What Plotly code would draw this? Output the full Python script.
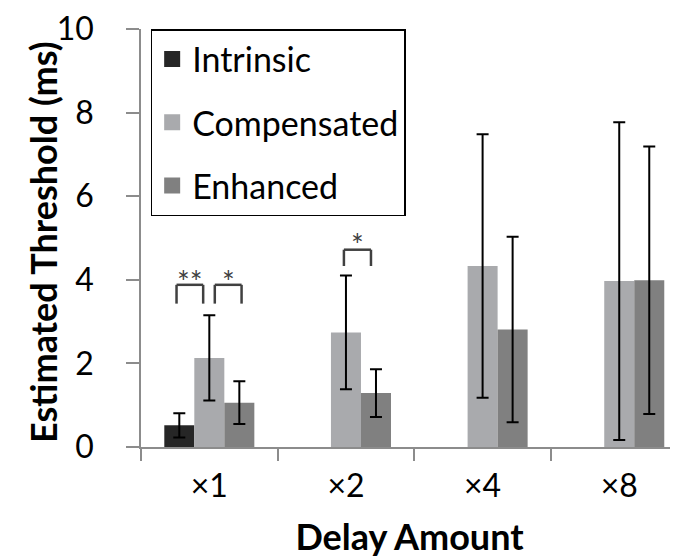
import plotly.graph_objects as go

categories = ["×1", "×2", "×4", "×8"]
intrinsic = [0.52, None, None, None]
intrinsic_err = [0.29, None, None, None]
compensated = [2.13, 2.74, 4.33, 3.97]
compensated_err = [1.02, 1.36, 3.15, 3.80]
enhanced = [1.06, 1.29, 2.81, 3.99]
enhanced_err = [0.51, 0.57, 2.22, 3.20]
y_ticks = [0, 2, 4, 6, 8, 10]

series_names = ["Intrinsic", "Compensated", "Enhanced"]
colors = ["#262626", "#a9aaad", "#808080"]

FONT = "Lato, 'Open Sans', sans-serif"

fig = go.Figure()
for name, vals, errs, col in zip(series_names,
                                  [intrinsic, compensated, enhanced],
                                  [intrinsic_err, compensated_err, enhanced_err],
                                  colors):
    fig.add_trace(go.Bar(
        x=categories, y=vals, name=name, marker_color=col, marker_line_width=0,
        error_y=dict(type="data", array=errs, color="black", thickness=2, width=6),
        showlegend=False,
    ))
# legend entries (square swatches)
for i, (name, col) in enumerate(zip(series_names, colors)):
    fig.add_trace(go.Scatter(
        x=[None], y=[None], mode="markers", name=name, legendgroup=str(i),
        marker=dict(symbol="square", size=16, color=col),
    ))

# significance brackets
brackets = [(-0.24, -0.045, 3.88, 3.43, "**", 3.97),
            (0.04, 0.236, 3.88, 3.43, "*", 3.97),
            (0.985, 1.183, 4.72, 4.33, "*", 4.85)]
for x0, x1, ytop, ybot, label, ylab in brackets:
    for (ax, ay, bx, by) in [(x0, ybot, x0, ytop), (x0, ytop, x1, ytop), (x1, ytop, x1, ybot)]:
        fig.add_shape(type="line", xref="x", yref="y", x0=ax, y0=ay, x1=bx, y1=by,
                      line=dict(color="#404040", width=2.5))
    fig.add_annotation(x=(x0 + x1) / 2, y=ylab, xref="x", yref="y", text=label,
                       showarrow=False, yanchor="middle",
                       font=dict(family=FONT, size=30, color="#404040"))

# y-axis title
fig.add_annotation(x=-0.183, y=0.49, xref="paper", yref="paper",
                   text="<b>Estimated Threshold (ms)</b>", textangle=-90,
                   showarrow=False, xanchor="center", yanchor="middle",
                   font=dict(family=FONT, size=36, color="black"))

fig.update_layout(
    width=670, height=550,
    margin=dict(l=133, r=0, t=16, b=111),
    paper_bgcolor="white", plot_bgcolor="white",
    barmode="group", bargap=0.341, bargroupgap=0,
    font=dict(family=FONT, color="black"),
    legend=dict(
        x=0.018, y=1.0, xanchor="left", yanchor="top",
        bordercolor="black", borderwidth=1.5, bgcolor="white",
        font=dict(family=FONT, size=34, color="black"),
        tracegroupgap=16, itemsizing="trace",
    ),
    showlegend=True,
)
fig.update_xaxes(
    range=[-0.5, 3.43], showgrid=False, zeroline=False,
    showline=True, linecolor="#8c8c8c", linewidth=1.7,
    ticks="outside", tickson="boundaries", ticklen=12, tickcolor="#8c8c8c", tickwidth=1.7,
    ticklabelstandoff=10,
    tickfont=dict(family=FONT, size=32, color="black"),
    title=dict(text="<b>Delay Amount</b>", font=dict(family=FONT, size=36, color="black"), standoff=25),
)
fig.update_yaxes(
    range=[0, 10], tickvals=y_ticks, showgrid=False, zeroline=False,
    showline=True, linecolor="#8c8c8c", linewidth=1.7,
    ticks="outside", ticklen=13, tickcolor="#8c8c8c", tickwidth=1.7,
    ticklabelstandoff=26, ticklabeloverflow="allow",
    tickfont=dict(family=FONT, size=32, color="black"),
)

fig.write_html("out.html")
